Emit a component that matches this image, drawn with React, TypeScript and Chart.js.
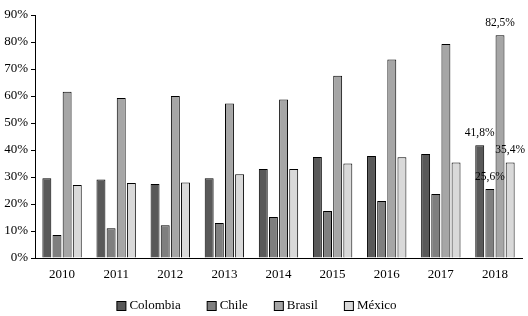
import React, { useEffect, useRef } from "react";
import { Chart, registerables } from "chart.js";

Chart.register(...registerables);

const years = ["2010", "2011", "2012", "2013", "2014", "2015", "2016", "2017", "2018"];
const colombia = [29.5, 29.1, 27.4, 29.5, 33.0, 37.4, 37.8, 38.5, 41.8];
const chile = [8.5, 11.0, 12.1, 13.0, 15.2, 17.4, 21.1, 23.7, 25.6];
const brasil = [61.6, 59.3, 60.0, 57.2, 58.7, 67.5, 73.5, 79.3, 82.5];
const mexico = [27.0, 27.8, 28.0, 31.0, 33.0, 35.0, 37.3, 35.4, 35.4];
const yTicks = [0, 10, 20, 30, 40, 50, 60, 70, 80, 90];

const FONT = "'Liberation Serif', 'Times New Roman', serif";

const lastLabels = {
  id: "lastLabels",
  afterDatasetsDraw(chart: any) {
    const ctx = chart.ctx;
    ctx.save();
    ctx.font = `11.5px ${FONT}`;
    ctx.fillStyle = "#000";
    ctx.textAlign = "center";
    ctx.textBaseline = "middle";
    chart.data.datasets.forEach((ds: any, i: number) => {
      const meta = chart.getDatasetMeta(i);
      const idx = ds.data.length - 1;
      const bar = meta.data[idx];
      if (!bar) return;
      const txt = ds.data[idx].toFixed(1).replace(".", ",") + "%";
      ctx.fillText(txt, bar.x, bar.y - 12);
    });
    ctx.restore();
  },
};

const bottomLegend = {
  id: "bottomLegend",
  afterDraw(chart: any) {
    const ctx = chart.ctx;
    ctx.save();
    ctx.font = `13px ${FONT}`;
    ctx.textBaseline = "middle";
    ctx.textAlign = "left";
    const box = 9;
    const gap = 3;
    const spacing = 27;
    const cy = 305.5;
    const items = chart.data.datasets.map((ds: any) => ({
      label: ds.label,
      color: ds.backgroundColor,
      w: box + gap + ctx.measureText(ds.label).width,
    }));
    const total = items.reduce((a: number, it: any) => a + it.w, 0) + spacing * (items.length - 1);
    let x = (chart.width - total) / 2 - 8;
    items.forEach((it: any) => {
      ctx.fillStyle = it.color;
      ctx.fillRect(x + 0.5, cy - box / 2, box, box);
      ctx.strokeStyle = "#000";
      ctx.lineWidth = 1;
      ctx.strokeRect(x + 0.5, Math.round(cy - box / 2) + 0.5, box, box);
      ctx.fillStyle = "#000";
      ctx.fillText(it.label, x + box + gap + 1, cy);
      x += it.w + spacing;
    });
    ctx.restore();
  },
};

export default function App() {
  const ref = useRef<HTMLCanvasElement>(null);
  useEffect(() => {
    if (!ref.current) return;
    const mk = (label: string, data: number[], color: string) => ({
      label,
      data,
      backgroundColor: color,
      borderColor: "#000",
      borderWidth: 1,
      categoryPercentage: 0.75,
      barPercentage: 0.88,
    });
    const chart = new Chart(ref.current, {
      type: "bar",
      data: {
        labels: years,
        datasets: [
          mk("Colombia", colombia, "#595959"),
          mk("Chile", chile, "#7f7f7f"),
          mk("Brasil", brasil, "#a6a6a6"),
          mk("México", mexico, "#d9d9d9"),
        ],
      },
      options: {
        responsive: false,
        animation: false,
        layout: { padding: { left: 0, right: 6, top: 15, bottom: 0 } },
        plugins: {
          tooltip: { enabled: false },
          legend: { display: false },
        },
        scales: {
          x: {
            grid: { display: false, drawTicks: false },
            border: { display: true, color: "#000", width: 1 },
            ticks: { color: "#000", font: { family: FONT, size: 13 }, padding: 9, maxRotation: 0 },
            afterFit: (s: any) => {
              s.height = 58;
            },
          },
          y: {
            min: 0,
            max: 90,
            afterBuildTicks: (s: any) => {
              s.ticks = yTicks.map((v) => ({ value: v }));
            },
            grid: { display: true, drawOnChartArea: false, drawTicks: true, tickLength: 4, color: "#000" },
            border: { display: true, color: "#000", width: 1 },
            ticks: {
              color: "#000",
              font: { family: FONT, size: 13 },
              padding: 3,
              callback: (v: any) => v + "%",
            },
            afterFit: (s: any) => {
              s.width = 35;
            },
          },
        },
      },
      plugins: [lastLabels, bottomLegend],
    } as any);
    return () => chart.destroy();
  }, []);
  return (
    <div style={{ position: "fixed", left: 0, top: 0, width: 528, height: 316, background: "#fff" }}>
      <canvas ref={ref} width={528} height={316} />
    </div>
  );
}
